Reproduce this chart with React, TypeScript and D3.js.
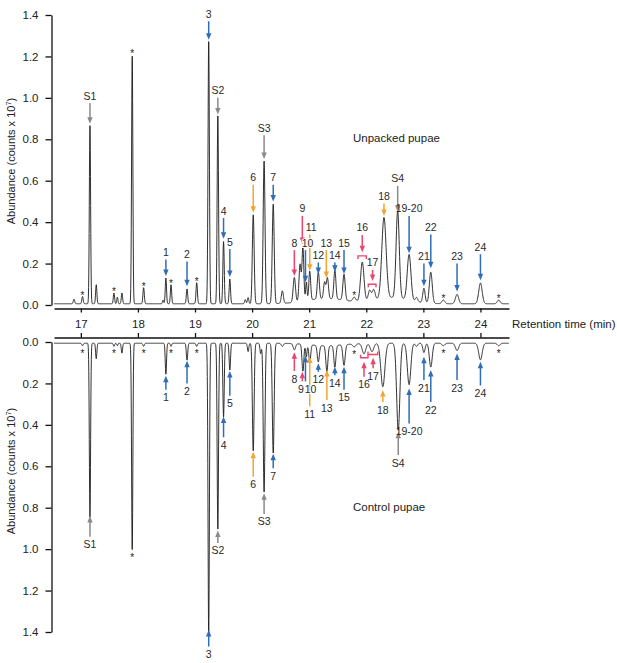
import { useEffect, useRef } from "react";
import * as d3 from "d3";

const W = 617;
const H = 663;
const FONT = "'Liberation Sans', Arial, Helvetica, sans-serif";

const X_TICKS = [17, 18, 19, 20, 21, 22, 23, 24];
const Y_TICKS = [0, 0.2, 0.4, 0.6, 0.8, 1.0, 1.2, 1.4];

// peaks: [retention time (min), height (counts x 10^7), sigma (min)]
const unpackedPeaks: [number, number, number][] = [
  [16.88, 0.022, 0.012], [17.03, 0.035, 0.012], [17.16, 0.86, 0.011], [17.27, 0.092, 0.011],
  [17.58, 0.052, 0.011], [17.64, 0.032, 0.01], [17.72, 0.052, 0.011], [17.9, 1.2, 0.011],
  [18.1, 0.078, 0.012], [18.44, 0.018, 0.01], [18.49, 0.125, 0.011], [18.58, 0.092, 0.011],
  [18.86, 0.072, 0.012], [19.03, 0.102, 0.012], [19.24, 1.27, 0.012], [19.4, 0.91, 0.012],
  [19.5, 0.3, 0.012], [19.61, 0.12, 0.012], [19.88, 0.02, 0.012], [19.93, 0.03, 0.012],
  [20.02, 0.43, 0.016], [20.21, 0.69, 0.016], [20.37, 0.48, 0.017], [20.53, 0.06, 0.018],
  [20.74, 0.12, 0.02], [20.84, 0.18, 0.018], [20.89, 0.26, 0.016], [20.95, 0.09, 0.012],
  [21.01, 0.14, 0.016], [21.16, 0.13, 0.018], [21.27, 0.08, 0.018], [21.32, 0.1, 0.018],
  [21.45, 0.14, 0.018], [21.61, 0.125, 0.02], [21.79, 0.02, 0.025], [21.93, 0.19, 0.03],
  [22.06, 0.05, 0.025], [22.13, 0.05, 0.025], [22.31, 0.39, 0.038], [22.55, 0.42, 0.028],
  [22.75, 0.22, 0.032], [22.88, 0.02, 0.02], [23.01, 0.07, 0.02], [23.13, 0.15, 0.025],
  [23.35, 0.018, 0.025], [23.59, 0.045, 0.028], [24.0, 0.1, 0.03], [24.32, 0.018, 0.025],
  [21.3, 0.025, 0.35], [22.45, 0.03, 0.3],
];

const controlPeaks: [number, number, number][] = [
  [17.03, 0.012, 0.012], [17.16, 0.84, 0.011], [17.27, 0.075, 0.011], [17.58, 0.015, 0.011],
  [17.64, 0.012, 0.01], [17.72, 0.048, 0.011], [17.9, 1.0, 0.011], [18.1, 0.015, 0.012],
  [18.49, 0.15, 0.011], [18.58, 0.015, 0.011], [18.86, 0.082, 0.012], [19.03, 0.015, 0.012],
  [19.24, 1.41, 0.012], [19.4, 0.9, 0.012], [19.5, 0.355, 0.012], [19.61, 0.13, 0.012],
  [19.93, 0.04, 0.012], [20.02, 0.52, 0.015], [20.15, 0.05, 0.012], [20.21, 0.72, 0.015],
  [20.37, 0.53, 0.016], [20.53, 0.015, 0.018], [20.74, 0.03, 0.02], [20.89, 0.13, 0.016],
  [20.95, 0.06, 0.012], [21.01, 0.085, 0.016], [21.16, 0.08, 0.018], [21.31, 0.125, 0.018],
  [21.45, 0.105, 0.018], [21.61, 0.1, 0.02], [21.79, 0.015, 0.025], [21.96, 0.05, 0.03],
  [22.1, 0.04, 0.03], [22.29, 0.21, 0.035], [22.56, 0.42, 0.028], [22.75, 0.2, 0.03],
  [22.88, 0.015, 0.02], [23.01, 0.045, 0.02], [23.13, 0.115, 0.025], [23.35, 0.012, 0.025],
  [23.59, 0.035, 0.028], [24.0, 0.08, 0.03], [24.32, 0.012, 0.025], [21.3, 0.012, 0.3],
];

// compound arrows: [label, retention time, arrow tip, arrow tail, class]
type Arrow = [string, number, number, number, string];

const unpackedArrows: Arrow[] = [
  ["S1", 17.16, 0.875, 0.975, "std"], ["1", 18.49, 0.14, 0.22, "cuticle"],
  ["2", 18.86, 0.09, 0.21, "cuticle"], ["3", 19.24, 1.28, 1.37, "cuticle"],
  ["S2", 19.4, 0.92, 1.0, "std"], ["4", 19.5, 0.32, 0.42, "cuticle"],
  ["5", 19.61, 0.135, 0.27, "cuticle"], ["6", 20.02, 0.445, 0.58, "up"],
  ["S3", 20.21, 0.705, 0.82, "std"], ["7", 20.37, 0.5, 0.58, "cuticle"],
  ["8", 20.74, 0.14, 0.265, "new"], ["9", 20.88, 0.295, 0.43, "new"],
  ["11", 21.01, 0.165, 0.34, "up"], ["10", 20.935, 0.11, 0.265, "cuticle"],
  ["12", 21.16, 0.15, 0.205, "cuticle"], ["13", 21.3, 0.13, 0.265, "up"],
  ["14", 21.45, 0.16, 0.205, "cuticle"], ["15", 21.61, 0.15, 0.265, "cuticle"],
  ["16", 21.93, 0.255, 0.338, "new"], ["17", 22.11, 0.116, 0.169, "new"],
  ["18", 22.31, 0.43, 0.49, "up"], ["S4", 22.55, 0.45, 0.575, "std"],
  ["19-20", 22.75, 0.25, 0.43, "cuticle"], ["21", 23.01, 0.09, 0.2, "cuticle"],
  ["22", 23.13, 0.177, 0.34, "cuticle"], ["23", 23.59, 0.065, 0.2, "cuticle"],
  ["24", 24.0, 0.12, 0.245, "cuticle"],
];

const controlArrows: Arrow[] = [
  ["S1", 17.16, 0.84, 0.94, "std"], ["1", 18.49, 0.163, 0.23, "cuticle"],
  ["2", 18.86, 0.09, 0.2, "cuticle"], ["3", 19.24, 1.39, 1.47, "cuticle"],
  ["S2", 19.4, 0.91, 0.97, "std"], ["4", 19.5, 0.36, 0.46, "cuticle"],
  ["5", 19.61, 0.14, 0.26, "cuticle"], ["6", 20.02, 0.53, 0.65, "up"],
  ["S3", 20.21, 0.73, 0.83, "std"], ["7", 20.37, 0.54, 0.61, "cuticle"],
  ["8", 20.74, 0.05, 0.14, "new"], ["9", 20.88, 0.144, 0.19, "new"],
  ["11", 21.01, 0.07, 0.31, "up"], ["10", 20.935, 0.066, 0.19, "cuticle"],
  ["12", 21.16, 0.103, 0.144, "cuticle"], ["13", 21.31, 0.135, 0.28, "up"],
  ["14", 21.45, 0.12, 0.16, "cuticle"], ["15", 21.61, 0.12, 0.23, "cuticle"],
  ["16", 21.96, 0.095, 0.168, "new"], ["17", 22.12, 0.076, 0.127, "new"],
  ["18", 22.29, 0.232, 0.29, "up"], ["S4", 22.56, 0.433, 0.546, "std"],
  ["19-20", 22.75, 0.224, 0.393, "cuticle"], ["21", 23.01, 0.071, 0.184, "cuticle"],
  ["22", 23.13, 0.135, 0.29, "cuticle"], ["23", 23.59, 0.055, 0.184, "cuticle"],
  ["24", 24.0, 0.095, 0.21, "cuticle"],
];

// brackets grouping unresolved peaks: [start time, end time, level]
const unpackedBrackets: [number, number, number][] = [[21.855, 22.0, 0.237], [22.035, 22.17, 0.1]];
const controlBrackets: [number, number, number][] = [[21.9, 22.03, 0.076], [22.03, 22.2, 0.06]];

// contaminant peaks marked with *
const starTimes = [17.03, 17.58, 17.9, 18.1, 18.58, 19.03, 21.79, 23.35, 24.32];

const COLORS: Record<string, string> = {
  std: "#8a8a8a",
  cuticle: "#2f6db5",
  up: "#f4a530",
  new: "#e8466c",
  trace: "#1a1a1a",
  text: "#2a2a2a",
};

const BASE = 0.006;

function signal(peaks: [number, number, number][], t: number) {
  return BASE + d3.sum(peaks, ([c, h, s]) => h * Math.exp(-0.5 * ((t - c) / s) ** 2));
}

export default function App() {
  const svgRef = useRef<SVGSVGElement>(null);

  useEffect(() => {
    if (!svgRef.current) return;
    const svg = d3.select(svgRef.current);
    svg.selectAll("*").remove();

    const x = d3.scaleLinear().domain([16.53, 24.5]).range([54, 509]);
    const yTop = d3.scaleLinear().domain([0, 1.4]).range([305, 15]);
    const yBot = d3.scaleLinear().domain([0, 1.4]).range([342, 632]);

    const times = d3.range(16.53, 24.5, 0.003);

    // ============ TRACES ============
    const drawTrace = (peaks: [number, number, number][], y: d3.ScaleLinear<number, number>) => {
      const line = d3.line<number>()
        .x((t) => x(t))
        .y((t) => y(signal(peaks, t)));
      svg.append("path")
        .datum(times)
        .attr("d", line)
        .attr("fill", "none")
        .attr("stroke", COLORS.trace)
        .attr("stroke-width", 0.9)
        .attr("stroke-linejoin", "round");
    };
    drawTrace(unpackedPeaks, yTop);
    drawTrace(controlPeaks, yBot);

    // ============ AXES ============
    const styleAxis = (g: d3.Selection<SVGGElement, unknown, null, undefined>) => {
      g.attr("font-family", FONT).attr("font-size", 11.5);
      g.selectAll(".domain").attr("stroke", "#111").attr("stroke-width", 1.3);
      g.selectAll(".tick line").attr("stroke", "#111").attr("stroke-width", 1.3);
      g.selectAll(".tick text").attr("fill", "#222");
    };

    svg.append("g")
      .attr("transform", "translate(0,308.5)")
      .call(d3.axisBottom(x).tickValues(X_TICKS).tickSize(4).tickSizeOuter(0).tickPadding(7.5))
      .call(styleAxis);

    svg.append("g")
      .attr("transform", "translate(0,337.5)")
      .call(d3.axisTop(x).tickValues(X_TICKS).tickSize(4.5).tickSizeOuter(0).tickFormat(() => ""))
      .call(styleAxis);

    [yTop, yBot].forEach((y) => {
      svg.append("g")
        .attr("transform", "translate(51.5,0)")
        .call(d3.axisLeft(y).tickValues(Y_TICKS).tickFormat(d3.format(".1f")).tickSize(6).tickSizeOuter(0).tickPadding(7))
        .call(styleAxis);
    });

    svg.append("text")
      .attr("x", 512)
      .attr("y", 328)
      .attr("font-family", FONT)
      .attr("font-size", 11.5)
      .attr("fill", "#222")
      .text("Retention time (min)");

    [161, 471].forEach((cy) => {
      const t = svg.append("text")
        .attr("transform", `translate(15,${cy}) rotate(-90)`)
        .attr("text-anchor", "middle")
        .attr("font-family", FONT)
        .attr("font-size", 11)
        .attr("fill", "#222");
      t.append("tspan").text("Abundance (counts x 10");
      t.append("tspan").attr("font-size", 7.5).attr("dy", -4.5).text("7");
      t.append("tspan").attr("dy", 4.5).text(")");
    });

    // panel titles
    svg.append("text").attr("x", 353).attr("y", 142).text("Unpacked pupae");
    svg.append("text").attr("x", 353).attr("y", 511).text("Control pupae");
    svg.selectAll("text:not([font-family])")
      .attr("font-family", FONT)
      .attr("font-size", 11.5)
      .attr("fill", "#222");

    // ============ STARS ============
    starTimes.forEach((t) => {
      svg.append("text")
        .attr("x", x(t))
        .attr("y", yTop(signal(unpackedPeaks, t)) + 2)
        .attr("text-anchor", "middle")
        .attr("font-family", FONT)
        .attr("font-size", 10)
        .attr("fill", "#222")
        .text("*");
      svg.append("text")
        .attr("x", x(t))
        .attr("y", yBot(signal(controlPeaks, t)) + 11)
        .attr("text-anchor", "middle")
        .attr("font-family", FONT)
        .attr("font-size", 10)
        .attr("fill", "#222")
        .text("*");
    });

    // ============ ARROWS ============
    const drawArrows = (arrows: Arrow[], y: d3.ScaleLinear<number, number>, down: boolean) => {
      const g = svg.append("g");
      arrows.forEach(([label, t, tip, tail, kind]) => {
        const cx = x(t);
        const yTip = y(tip);
        const yTail = y(tail);
        const dir = down ? -1 : 1;
        const color = COLORS[kind];
        g.append("line")
          .attr("x1", cx).attr("x2", cx)
          .attr("y1", yTail).attr("y2", yTip + dir * 4)
          .attr("stroke", color)
          .attr("stroke-width", 1.5);
        g.append("path")
          .attr("d", `M${cx - 2.7},${yTip + dir * 6.5}L${cx + 2.7},${yTip + dir * 6.5}L${cx},${yTip}Z`)
          .attr("fill", color);
        let dx = 0;
        if (label === "10") dx = down ? 2 : 5;
        if (label === "11" && down) dx = 1.5;
        if (label === "9" && !down) dx = -1.5;
        const txt = g.append("text")
          .attr("x", cx + dx)
          .attr("y", down ? yTail - 3.5 : yTail + 11.5)
          .attr("text-anchor", "middle")
          .attr("font-family", FONT)
          .attr("font-size", 10.5)
          .attr("fill", COLORS.text)
          .text(label);
        // "10" sits over the orange arrow of 11: give it a white halo so the arrow breaks
        if (label === "10") {
          txt.attr("stroke", "#fff").attr("stroke-width", 2).attr("paint-order", "stroke");
        }
      });
    };
    drawArrows(unpackedArrows, yTop, true);
    drawArrows(controlArrows, yBot, false);

    // ============ BRACKETS ============
    const drawBrackets = (list: [number, number, number][], y: d3.ScaleLinear<number, number>, down: boolean) => {
      list.forEach(([t0, t1, v]) => {
        const yy = y(v);
        const d = down ? 3 : -3;
        svg.append("path")
          .attr("d", `M${x(t0)},${yy + d}V${yy}H${x(t1)}V${yy + d}`)
          .attr("fill", "none")
          .attr("stroke", COLORS.new)
          .attr("stroke-width", 1.4);
      });
    };
    drawBrackets(unpackedBrackets, yTop, true);
    drawBrackets(controlBrackets, yBot, false);
  }, []);

  return (
    <div style={{ position: "absolute", left: 0, top: 0, background: "#fff" }}>
      <svg ref={svgRef} width={W} height={H} />
    </div>
  );
}
